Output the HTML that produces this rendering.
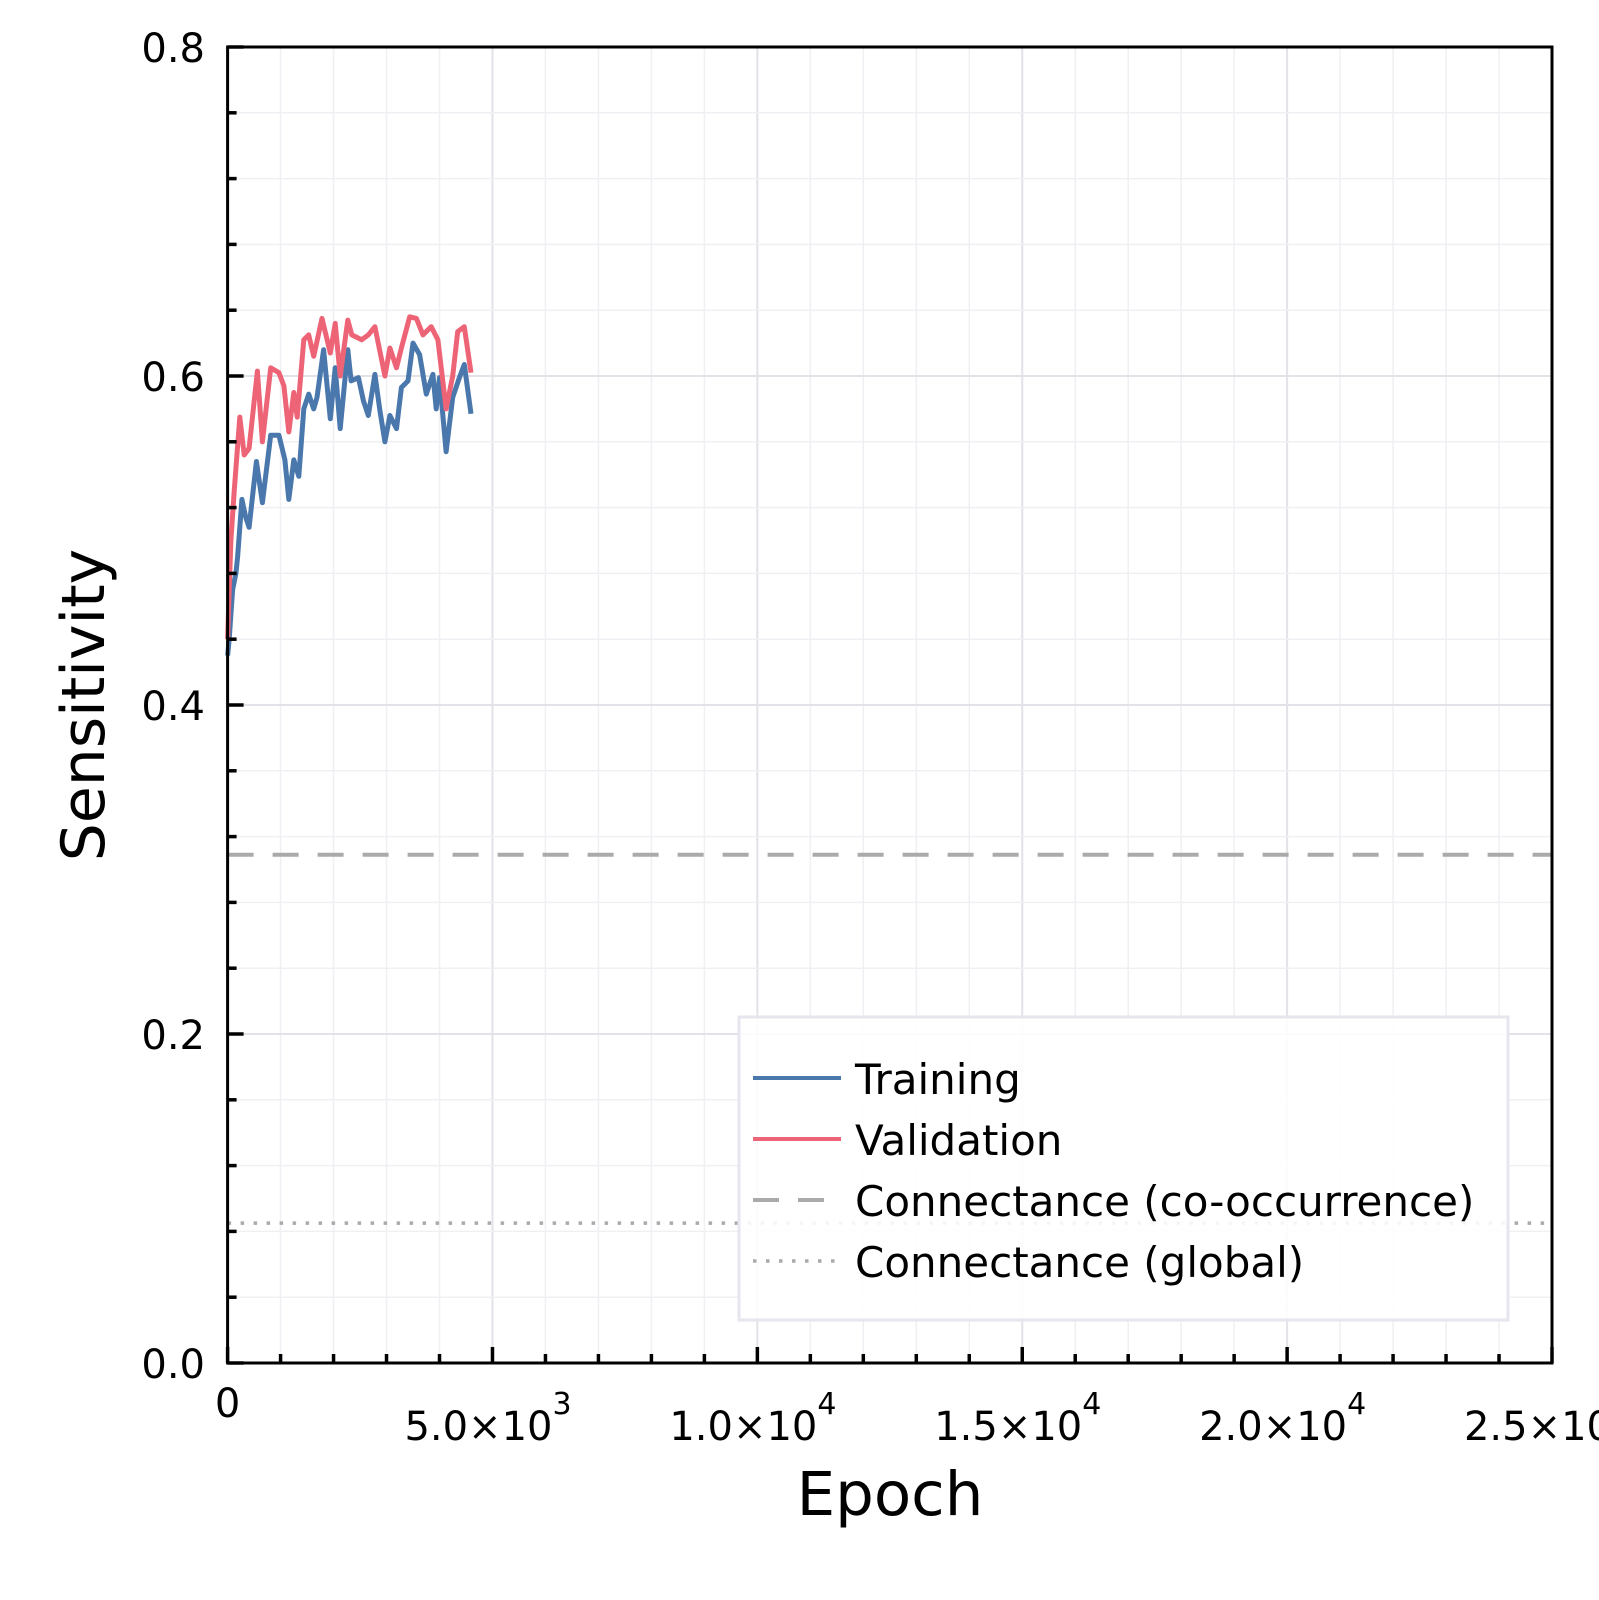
<!DOCTYPE html>
<html><head><meta charset="utf-8"><style>
body{margin:0;background:#fff}
svg{display:block;font-family:"DejaVu Sans","Liberation Sans",sans-serif}
</style></head><body>
<svg id="chart" width="1599" height="1600" viewBox="0 0 1599 1600">
<g id="grid"></g>
<g id="hlines"></g>
<g id="series"></g>
<rect x="227.6" y="47" width="1324.4" height="1316" fill="none" stroke="#000" stroke-width="3"/>
<g id="ticks"></g>
<text x="890" y="1515" font-size="61" text-anchor="middle">Epoch</text>
<text transform="translate(104,705) rotate(-90)" font-size="60" text-anchor="middle">Sensitivity</text>
<g>
<rect x="739" y="1017" width="769" height="303" fill="#fff" fill-opacity="0.88" stroke="#e6e6ee" stroke-width="3"/>
<line x1="753" y1="1078" x2="841" y2="1078" stroke="#4a78ac" stroke-width="4"/>
<text x="855" y="1094" font-size="42">Training</text>
<line x1="753" y1="1139" x2="841" y2="1139" stroke="#ee6477" stroke-width="4"/>
<text x="855" y="1155" font-size="42">Validation</text>
<line x1="753" y1="1200" x2="841" y2="1200" stroke="#aaa" stroke-width="4" stroke-dasharray="26,19"/>
<text x="855" y="1216" font-size="42">Connectance (co-occurrence)</text>
<line x1="753" y1="1261" x2="841" y2="1261" stroke="#aaa" stroke-width="3.5" stroke-dasharray="3.5,9.5"/>
<text x="855" y="1277" font-size="42">Connectance (global)</text>
</g>
</svg>
<script>
const trainEpochs=[0,31,94,156,188,269,344,406,544,656,813,969,1081,1156,1250,1344,1438,1531,1625,1688,1813,1938,2031,2125,2269,2331,2469,2563,2656,2781,2875,2969,3063,3188,3281,3406,3500,3625,3750,3875,3938,4000,4125,4250,4375,4469,4594];
const trainValues=[0.43,0.44,0.47,0.48,0.49,0.525,0.514,0.508,0.548,0.523,0.564,0.564,0.549,0.525,0.549,0.539,0.58,0.589,0.58,0.587,0.616,0.574,0.605,0.568,0.616,0.597,0.599,0.585,0.576,0.601,0.579,0.56,0.576,0.568,0.593,0.597,0.62,0.613,0.589,0.601,0.58,0.599,0.554,0.587,0.599,0.607,0.577];
const valEpochs=[0,31,63,125,231,313,406,563,656,813,969,1063,1156,1250,1313,1438,1531,1625,1781,1938,2031,2125,2269,2344,2531,2656,2781,2875,2969,3063,3188,3281,3438,3563,3688,3844,3969,4125,4250,4344,4469,4594];
const valValues=[0.44,0.47,0.5,0.53,0.575,0.552,0.556,0.603,0.56,0.605,0.602,0.594,0.566,0.59,0.575,0.622,0.625,0.612,0.635,0.614,0.632,0.6,0.634,0.625,0.622,0.625,0.63,0.615,0.6,0.617,0.605,0.617,0.636,0.635,0.625,0.63,0.622,0.58,0.6,0.627,0.63,0.602];
const refValues=[0.309,0.085];
const yTickLabels=["0.0","0.2","0.4","0.6","0.8"];
const xTickValues=[0,5000,10000,15000,20000,25000];
const xTickMant=["0","5.0","1.0","1.5","2.0","2.5"];
const xTickExp=["","3","4","4","4","4"];
const NS="http://www.w3.org/2000/svg";
const X0=227.6,X1=1552,Y0=1363,Y1=47;
function sx(e){return X0+(e/25000)*(X1-X0);}
function sy(v){return Y0-(v/0.8)*(Y0-Y1);}
function mk(tag,attrs,parent){const el=document.createElementNS(NS,tag);for(const k in attrs)el.setAttribute(k,attrs[k]);parent.appendChild(el);return el;}
const grid=document.getElementById('grid'),ticks=document.getElementById('ticks'),hl=document.getElementById('hlines'),ser=document.getElementById('series');
for(let i=0;i<=25;i++){const x=sx(i*1000);const major=i%5===0;
 const g=mk('line',{x1:x,x2:x,y1:Y1,y2:Y0,stroke:major?'#e2e2e8':'#f0f0f4','stroke-width':major?2:1.5},grid);
 
 const t=mk('line',{x1:x,x2:x,y1:Y0,y2:Y0-(major?16:9),stroke:'#000','stroke-width':3.5},ticks);
 }
for(let i=0;i<=20;i++){const y=sy(i*0.04);const major=i%5===0;
 const g=mk('line',{x1:X0,x2:X1,y1:y,y2:y,stroke:major?'#e2e2e8':'#f0f0f4','stroke-width':major?2:1.5},grid);
 
 const t=mk('line',{x1:X0,x2:X0+(major?16:9),y1:y,y2:y,stroke:'#000','stroke-width':3.5},ticks);
 }
yTickLabels.forEach((l,i)=>{const t=mk('text',{x:205,y:sy(i*0.2)+15,'font-size':40,'text-anchor':'end'},ticks);t.textContent=l;
 });
xTickValues.forEach((v,i)=>{const x=sx(v);
 if(i===0){const t=mk('text',{x:x,y:1417,'font-size':40,'text-anchor':'middle'},ticks);t.textContent=xTickMant[i];
  return;}
 const t=mk('text',{x:x+60,y:1440,'font-size':40,'text-anchor':'end'},ticks);t.textContent=xTickMant[i]+"×10";
 
 const s=mk('text',{x:x+60,y:1414,'font-size':30},ticks);s.textContent=xTickExp[i];
 });
const r1=mk('line',{x1:X0,x2:X1,y1:sy(refValues[0]),y2:sy(refValues[0]),stroke:'#aaa','stroke-width':4,'stroke-dasharray':'26,19'},hl);

const r2=mk('line',{x1:X0,x2:X1,y1:sy(refValues[1]),y2:sy(refValues[1]),stroke:'#aaa','stroke-width':3.5,'stroke-dasharray':'3.5,9.5'},hl);

function path(ep,vals,color,name){const d=ep.map((e,i)=>(i?'L':'M')+sx(e).toFixed(1)+','+sy(vals[i]).toFixed(1)).join('');
 const p=mk('path',{d:d,fill:'none',stroke:color,'stroke-width':5,'stroke-linejoin':'round'},ser);
 }
path(trainEpochs,trainValues,'#4a78ac','training-line');
path(valEpochs,valValues,'#ee6477','validation-line');
</script>
</body></html>
